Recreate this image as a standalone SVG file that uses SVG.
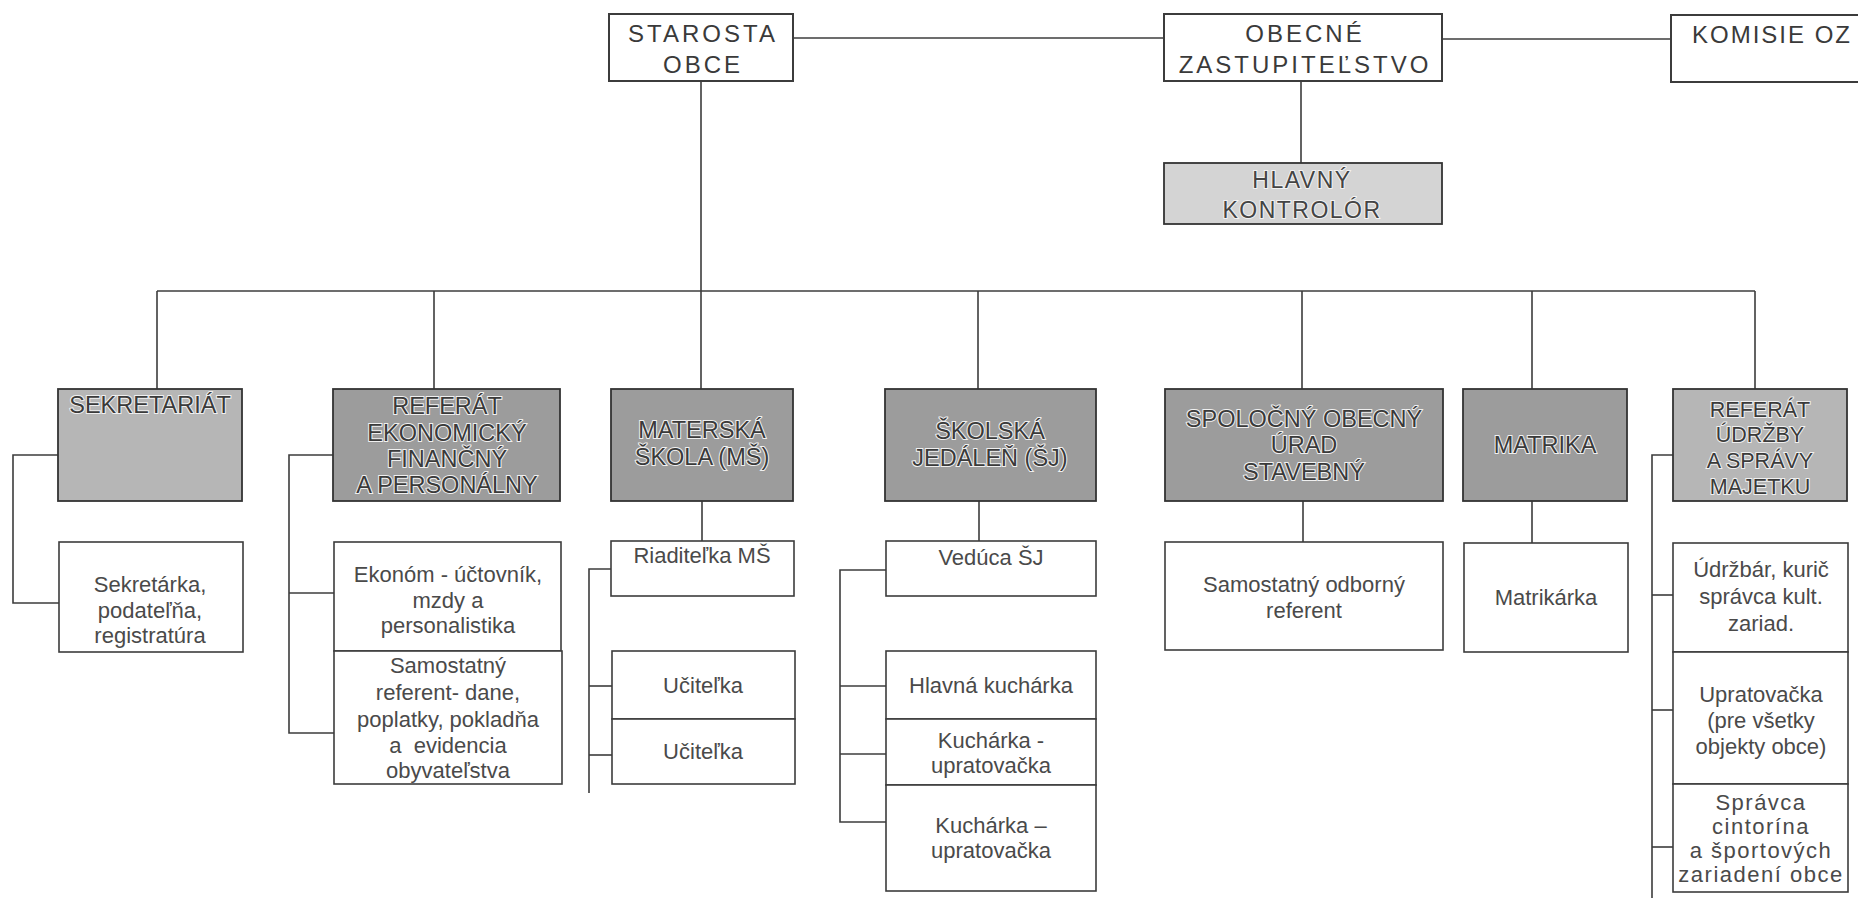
<svg xmlns="http://www.w3.org/2000/svg" width="1858" height="898" viewBox="0 0 1858 898">
<style>
  .bg{fill:#ffffff}
  .top{fill:#ffffff;stroke:#3c3c3c;stroke-width:2}
  .box{fill:#ffffff;stroke:#3c3c3c;stroke-width:1.6}
  .dark{fill:#9c9c9c;stroke:#333333;stroke-width:1.8}
  .mid{fill:#b6b6b6;stroke:#333333;stroke-width:1.8}
  .light{fill:#d4d4d4;stroke:#333333;stroke-width:1.8}
  .conn line,.conn polyline{stroke:#3c3c3c;stroke-width:1.6;fill:none}
  .tt{font-family:"Liberation Sans",Arial,sans-serif;font-size:24px;fill:#3a3a3a;text-anchor:middle;letter-spacing:3px}
  .ht{font-family:"Liberation Sans",Arial,sans-serif;font-size:23px;fill:#444;text-anchor:middle;letter-spacing:1.5px;stroke:#f2f2f2;stroke-width:2;paint-order:stroke}
  .st{font-family:"Liberation Sans",Arial,sans-serif;font-size:23.5px;fill:#3a3a3a;text-anchor:middle;stroke:#f0f0f0;stroke-width:2;paint-order:stroke}
  .sts{font-family:"Liberation Sans",Arial,sans-serif;font-size:21.5px;fill:#3a3a3a;text-anchor:middle;stroke:#f0f0f0;stroke-width:2;paint-order:stroke}
  .lt{font-family:"Liberation Sans",Arial,sans-serif;font-size:22px;fill:#4a4a4a;text-anchor:middle}
  .ltw{font-family:"Liberation Sans",Arial,sans-serif;font-size:22px;fill:#4a4a4a;text-anchor:middle;letter-spacing:1.5px}
</style>
<rect class="bg" x="0" y="0" width="1858" height="898"/>

<g id="connectors" class="conn">
  <line x1="793" y1="38" x2="1164" y2="38"/>
  <line x1="1442" y1="39" x2="1671" y2="39"/>
  <line x1="1301" y1="81" x2="1301" y2="163"/>
  <line x1="701" y1="81" x2="701" y2="291"/>
  <line x1="157" y1="291" x2="1755" y2="291"/>
  <line x1="157" y1="291" x2="157" y2="389"/>
  <line x1="434" y1="291" x2="434" y2="389"/>
  <line x1="701" y1="291" x2="701" y2="389"/>
  <line x1="978" y1="291" x2="978" y2="389"/>
  <line x1="1302" y1="291" x2="1302" y2="389"/>
  <line x1="1532" y1="291" x2="1532" y2="389"/>
  <line x1="1755" y1="291" x2="1755" y2="389"/>
  <line x1="702" y1="501" x2="702" y2="541"/>
  <line x1="979" y1="501" x2="979" y2="541"/>
  <line x1="1303" y1="501" x2="1303" y2="542"/>
  <line x1="1532" y1="501" x2="1532" y2="543"/>
  <polyline points="58,455 13,455 13,603 59,603"/>
  <polyline points="333,455 289,455 289,733 336,733"/>
  <line x1="289" y1="593" x2="334" y2="593"/>
  <polyline points="611,569 589,569 589,793"/>
  <line x1="589" y1="686" x2="612" y2="686"/>
  <line x1="589" y1="755" x2="612" y2="755"/>
  <polyline points="886,570 840,570 840,822 886,822"/>
  <line x1="840" y1="686" x2="886" y2="686"/>
  <line x1="840" y1="754" x2="886" y2="754"/>
  <polyline points="1673,455 1652,455 1652,898"/>
  <line x1="1652" y1="595" x2="1673" y2="595"/>
  <line x1="1652" y1="710" x2="1673" y2="710"/>
  <line x1="1652" y1="847" x2="1673" y2="847"/>
</g>

<g id="starosta">
  <rect class="top" x="609" y="14" width="184" height="67"/>
  <text class="tt" x="703" y="42">STAROSTA</text>
  <text class="tt" x="703" y="73">OBCE</text>
</g>
<g id="zastupitelstvo">
  <rect class="top" x="1164" y="14" width="278" height="67"/>
  <text class="tt" x="1305" y="42">OBECNÉ</text>
  <text class="tt" x="1305" y="73">ZASTUPITEĽSTVO</text>
</g>
<g id="komisie">
  <rect class="top" x="1671" y="15" width="200" height="67"/>
  <text class="tt" x="1692" y="43" style="text-anchor:start;letter-spacing:2px">KOMISIE OZ</text>
</g>
<g id="kontrolor">
  <rect class="light" x="1164" y="163" width="278" height="61"/>
  <text class="ht" x="1302" y="188">HLAVNÝ</text>
  <text class="ht" x="1302" y="218">KONTROLÓR</text>
</g>

<g id="sekretariat">
  <rect class="mid" x="58" y="389" width="184" height="112"/>
  <text class="st" x="150" y="413">SEKRETARIÁT</text>
</g>
<g id="referat-ekon">
  <rect class="dark" x="333" y="389" width="227" height="112"/>
  <text class="st" x="447" y="414">REFERÁT</text>
  <text class="st" x="447" y="441">EKONOMICKÝ</text>
  <text class="st" x="447" y="467">FINANČNÝ</text>
  <text class="st" x="447" y="493">A PERSONÁLNY</text>
</g>
<g id="materska">
  <rect class="dark" x="611" y="389" width="182" height="112"/>
  <text class="st" x="702" y="438">MATERSKÁ</text>
  <text class="st" x="702" y="465">ŠKOLA (MŠ)</text>
</g>
<g id="jedalen">
  <rect class="dark" x="885" y="389" width="211" height="112"/>
  <text class="st" x="990" y="439">ŠKOLSKÁ</text>
  <text class="st" x="990" y="466">JEDÁLEŇ (ŠJ)</text>
</g>
<g id="stavebny">
  <rect class="dark" x="1165" y="389" width="278" height="112"/>
  <text class="st" x="1304" y="427">SPOLOČNÝ OBECNÝ</text>
  <text class="st" x="1304" y="453">ÚRAD</text>
  <text class="st" x="1304" y="480">STAVEBNÝ</text>
</g>
<g id="matrika">
  <rect class="dark" x="1463" y="389" width="164" height="112"/>
  <text class="st" x="1545" y="453">MATRIKA</text>
</g>
<g id="referat-udrzby">
  <rect class="mid" x="1673" y="389" width="174" height="112"/>
  <text class="sts" x="1760" y="417">REFERÁT</text>
  <text class="sts" x="1760" y="442">ÚDRŽBY</text>
  <text class="sts" x="1760" y="468">A SPRÁVY</text>
  <text class="sts" x="1760" y="494">MAJETKU</text>
</g>

<g id="sekretarka">
  <rect class="box" x="59" y="542" width="184" height="110"/>
  <text class="lt" x="150" y="592">Sekretárka,</text>
  <text class="lt" x="150" y="618">podateľňa,</text>
  <text class="lt" x="150" y="643">registratúra</text>
</g>
<g id="ekonom">
  <rect class="box" x="334" y="542" width="227" height="109"/>
  <text class="lt" x="448" y="582">Ekonóm - účtovník,</text>
  <text class="lt" x="448" y="608">mzdy a</text>
  <text class="lt" x="448" y="633">personalistika</text>
</g>
<g id="referent-dane">
  <rect class="box" x="334" y="651" width="228" height="133"/>
  <text class="lt" x="448" y="673">Samostatný</text>
  <text class="lt" x="448" y="700">referent- dane,</text>
  <text class="lt" x="448" y="727">poplatky, pokladňa</text>
  <text class="lt" x="448" y="753" style="white-space:pre">a  evidencia</text>
  <text class="lt" x="448" y="778">obyvateľstva</text>
</g>
<g id="riaditelka">
  <rect class="box" x="611" y="541" width="183" height="55"/>
  <text class="lt" x="702" y="563">Riaditeľka MŠ</text>
</g>
<g id="ucitelka1">
  <rect class="box" x="612" y="651" width="183" height="68"/>
  <text class="lt" x="703" y="693">Učiteľka</text>
</g>
<g id="ucitelka2">
  <rect class="box" x="612" y="719" width="183" height="65"/>
  <text class="lt" x="703" y="759">Učiteľka</text>
</g>
<g id="veduca">
  <rect class="box" x="886" y="541" width="210" height="55"/>
  <text class="lt" x="991" y="565">Vedúca ŠJ</text>
</g>
<g id="hlavna-kucharka">
  <rect class="box" x="886" y="651" width="210" height="68"/>
  <text class="lt" x="991" y="693">Hlavná kuchárka</text>
</g>
<g id="kucharka1">
  <rect class="box" x="886" y="719" width="210" height="66"/>
  <text class="lt" x="991" y="748">Kuchárka -</text>
  <text class="lt" x="991" y="773">upratovačka</text>
</g>
<g id="kucharka2">
  <rect class="box" x="886" y="785" width="210" height="106"/>
  <text class="lt" x="991" y="833">Kuchárka –</text>
  <text class="lt" x="991" y="858">upratovačka</text>
</g>
<g id="odborny-referent">
  <rect class="box" x="1165" y="542" width="278" height="108"/>
  <text class="lt" x="1304" y="592">Samostatný odborný</text>
  <text class="lt" x="1304" y="618">referent</text>
</g>
<g id="matrikarka">
  <rect class="box" x="1464" y="543" width="164" height="109"/>
  <text class="lt" x="1546" y="605">Matrikárka</text>
</g>
<g id="udrzbar">
  <rect class="box" x="1673" y="543" width="175" height="109"/>
  <text class="lt" x="1761" y="577">Údržbár, kurič</text>
  <text class="lt" x="1761" y="604">správca kult.</text>
  <text class="lt" x="1761" y="631">zariad.</text>
</g>
<g id="upratovacka">
  <rect class="box" x="1673" y="652" width="175" height="132"/>
  <text class="lt" x="1761" y="702">Upratovačka</text>
  <text class="lt" x="1761" y="728">(pre všetky</text>
  <text class="lt" x="1761" y="754">objekty obce)</text>
</g>
<g id="spravca">
  <rect class="box" x="1673" y="784" width="175" height="108"/>
  <text class="ltw" x="1761" y="810">Správca</text>
  <text class="ltw" x="1761" y="834">cintorína</text>
  <text class="ltw" x="1761" y="858">a športových</text>
  <text class="ltw" x="1761" y="882">zariadení obce</text>
</g>
</svg>
